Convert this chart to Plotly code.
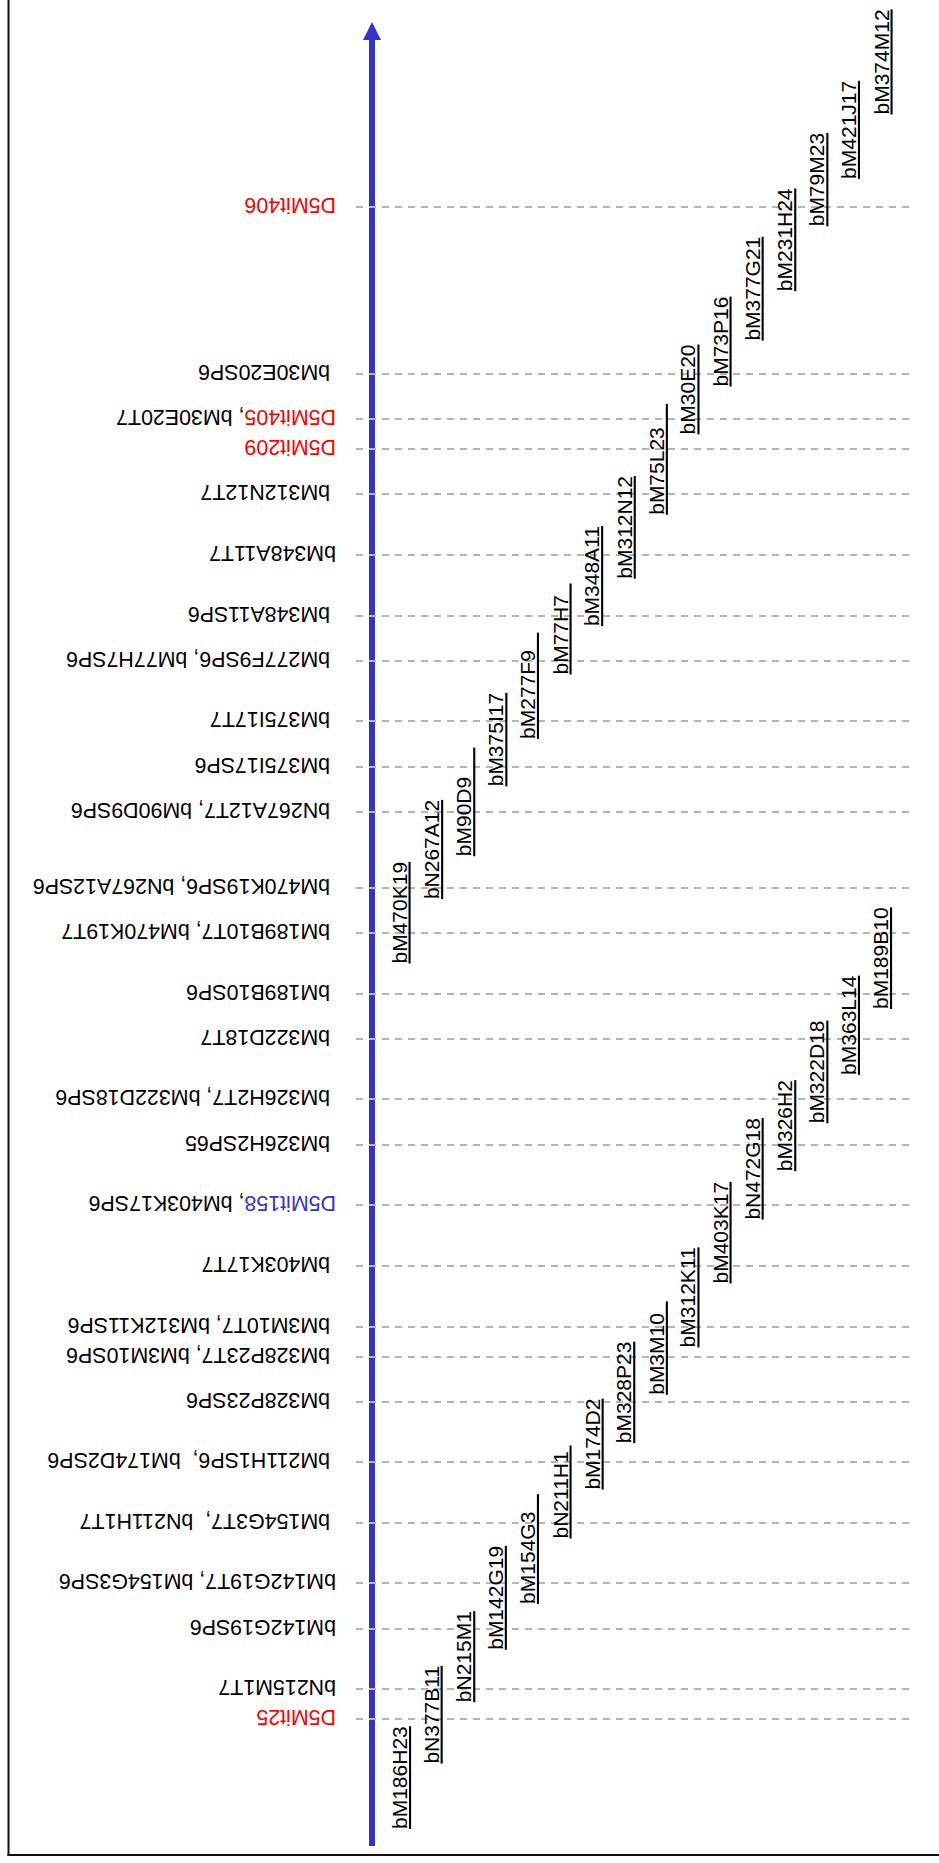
import plotly.graph_objects as go

# ---------------- data ----------------
# Marker / BAC-end labels along the map axis (map units, 0 = base of the axis arrow)
MARKER_LABELS = [
    "D5Mit406", " bM30E20SP6", "D5Mit405, bM30E20T7", "D5Mit209", " bM312N12T7",
    "bM348A11T7", " bM348A11SP6", " bM277F9SP6, bM77H7SP6", " bM375I17T7", " bM375I17SP6",
    " bN267A12T7, bM90D9SP6", " bM470K19SP6, bN267A12SP6", " bM189B10T7, bM470K19T7",
    " bM189B10SP6", " bM322D18T7", " bM326H2T7, bM322D18SP6", " bM326H2SP65",
    "D5Mit158, bM403K17SP6", " bM403K17T7", " bM3M10T7, bM312K11SP6",
    " bM328P23T7, bM3M10SP6", " bM328P23SP6", " bM211H1SP6,  bM174D2SP6",
    " bM154G3T7,  bN211H1T7", "bM142G19T7, bM154G3SP6", "bM142G19SP6", "bN215M1T7", "D5Mit25",
]
MARKER_POS = [
    1639, 1472, 1427, 1397, 1352, 1291, 1230, 1185, 1125, 1079, 1034, 958, 913, 852,
    807, 747, 701, 641, 580, 519, 489, 444, 384, 323, 263, 217, 157, 127,
]
SSLP_COLORS = {
    "D5Mit406": "#ff0000", "D5Mit405": "#ff0000", "D5Mit209": "#ff0000",
    "D5Mit158": "#3333cc", "D5Mit25": "#ff0000",
}

# BAC clones, lower contig (name, track index, start position of label)
BAC1_NAMES = [
    "bM186H23", "bN377B11", "bN215M1", "bM142G19", "bM154G3   ", "bN211H1 ", "bM174D2",
    "bM328P23", "bM3M10  ", "bM312K11", "bM403K17", "bN472G18", "bM326H2", "bM322D18",
    "bM363L14", "bM189B10",
]
BAC1_TRACK = [0, 1, 2, 3, 4, 5, 6, 7, 8, 9, 10, 11, 12, 13, 14, 15]
BAC1_START = [18, 84, 145, 198, 244, 309, 358, 404, 453, 500, 564, 628, 676, 724, 773, 838]

# BAC clones, upper contig
BAC2_NAMES = [
    "bM470K19", "bN267A12", "bM90D9     ", "bM375I17", "bM277F9   ", "bM77H7  ", "bM348A11",
    "bM312N12", "bM75L23    ", "bM30E20", "bM73P16", "bM377G21", "bM231H24", "bM79M23",
    "bM421J17", "bM374M12",
]
BAC2_TRACK = [0, 1, 2, 3, 4, 5, 6, 7, 8, 9, 10, 11, 12, 13, 14, 15]
BAC2_START = [884, 948, 991, 1061, 1109, 1173, 1221, 1269, 1333, 1413, 1461, 1507, 1556, 1621, 1669, 1733]

# ---------------- layout constants ----------------
W, H = 939, 1863
AXIS_BASE_PX = 1846            # screen row of map position 0
Y_RANGE = [AXIS_BASE_PX - H, AXIS_BASE_PX]
FONT = "Liberation Sans, Arial, sans-serif"
FS_MARK = 21.4
FS_BAC = 21
BLUE = "#3333cc"
DASH_X0, DASH_X1 = 356, 910
LABEL_RIGHT = 336
ARROW_X, ARROW_W = 372, 6
ARROW_TIP, ARROW_HEAD_BASE, ARROW_HALF = 1824, 1806, 9
TRACK_X0, TRACK_DX = 409, 32.1

fig = go.Figure()

# dashed marker lines
xs, ys = [], []
for p in MARKER_POS:
    xs += [DASH_X0, DASH_X1, None]
    ys += [p, p, None]
fig.add_trace(go.Scatter(x=xs, y=ys, mode="lines", hoverinfo="skip",
                         line=dict(color="#b4b4b4", width=2, dash="7px,6px")))

# axis arrow
fig.add_shape(type="line", xref="x", yref="y", x0=ARROW_X, x1=ARROW_X,
              y0=0, y1=ARROW_HEAD_BASE + 2, line=dict(color=BLUE, width=ARROW_W), layer="below")
fig.add_shape(type="path", xref="x", yref="y", layer="below",
              path=f"M {ARROW_X - ARROW_HALF},{ARROW_HEAD_BASE} L {ARROW_X + ARROW_HALF},{ARROW_HEAD_BASE} "
                   f"L {ARROW_X},{ARROW_TIP} Z",
              fillcolor=BLUE, line=dict(width=0))

# frame (left and bottom edges)
fig.add_shape(type="line", xref="x", yref="paper", x0=8.5, x1=8.5, y0=(H - 1856) / H, y1=1.01,
              line=dict(color="#111111", width=2))
fig.add_shape(type="line", xref="x", yref="y", x0=7.5, x1=W + 10, y0=AXIS_BASE_PX - 1855,
              y1=AXIS_BASE_PX - 1855, line=dict(color="#111111", width=2))

# marker labels (upside-down)
for lab, p in zip(MARKER_LABELS, MARKER_POS):
    txt = lab.replace(" ", "\u00a0")
    for name, col in SSLP_COLORS.items():
        if name in txt:
            txt = txt.replace(name, f"<span style='color:{col}'>{name}</span>")
    fig.add_annotation(x=LABEL_RIGHT, y=p + 2, xref="x", yref="y", text=txt, showarrow=False,
                       textangle=180, xanchor="right", yanchor="middle",
                       font=dict(family=FONT, size=FS_MARK, color="black"),
                       borderpad=0, borderwidth=0)

# BAC clone labels (vertical, underlined)
for names, tracks, starts in ((BAC1_NAMES, BAC1_TRACK, BAC1_START),
                              (BAC2_NAMES, BAC2_TRACK, BAC2_START)):
    for n, t, s in zip(names, tracks, starts):
        ux = TRACK_X0 + TRACK_DX * t
        fig.add_annotation(x=ux + 1.5, y=s - 1.5, xref="x", yref="y",
                           text="<u>" + n.replace(" ", "\u00a0") + "</u>", showarrow=False,
                           textangle=-90, xanchor="right", yanchor="bottom",
                           font=dict(family=FONT, size=FS_BAC, color="black"),
                           borderpad=0, borderwidth=0)

fig.update_layout(
    width=W, height=H, margin=dict(l=0, r=0, t=0, b=0),
    paper_bgcolor="white", plot_bgcolor="white", showlegend=False,
    xaxis=dict(range=[0, W], visible=False, fixedrange=True),
    yaxis=dict(range=Y_RANGE, visible=False, fixedrange=True),
)

fig.write_html("out.html", config={"displayModeBar": False, "staticPlot": True},
               post_script="document.body.style.margin='0';document.body.style.padding='0';")
